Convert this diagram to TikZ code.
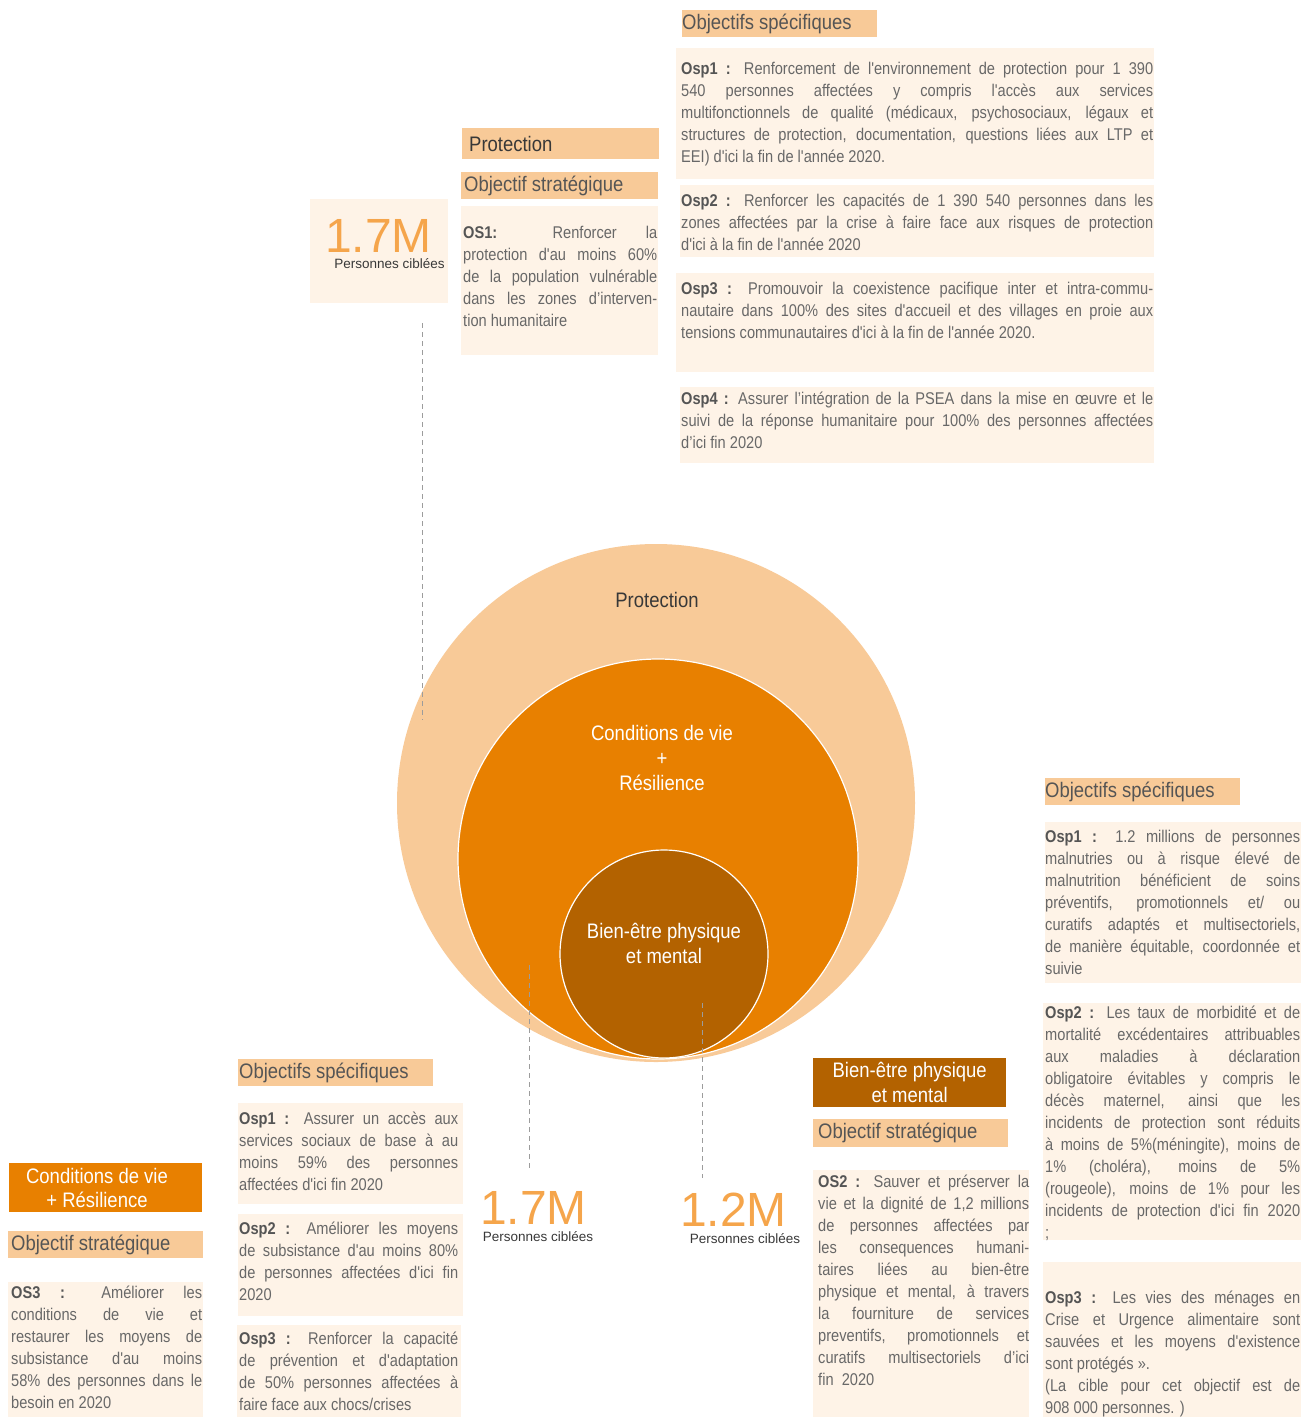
\documentclass[tikz,border=0pt]{standalone}
\usepackage{fontspec}
\setmainfont{Liberation Sans}
\newfontfamily\narrowfont{Liberation Sans}[FakeStretch=0.88]
\newfontfamily\bodyfont{Liberation Sans}[FakeStretch=0.86]

\definecolor{peach}{HTML}{F8CA98}
\definecolor{cream}{HTML}{FEF3E7}
\definecolor{amber}{HTML}{E88000}
\definecolor{rust}{HTML}{B36200}
\definecolor{tallyorange}{HTML}{F5A54B}
\definecolor{ink}{HTML}{686868}
\definecolor{labelink}{HTML}{555555}
\definecolor{darkink}{HTML}{383838}
\definecolor{guidegray}{HTML}{9C9C9C}

\newcommand{\lbl}[1]{\textcolor{labelink}{\textbf{#1}}}

\tolerance=10000
\hbadness=10000
\setlength{\parindent}{0pt}

\tikzset{
  band/.style 2 args={fill=peach, anchor=north west, inner sep=0pt, minimum width=#1, minimum height=#2},
  panel/.style 2 args={fill=cream, anchor=north west, inner sep=0pt, minimum width=#1, minimum height=#2},
  bandtext/.style={anchor=west, inner sep=0pt, text=labelink, font=\narrowfont\fontsize{21}{25}\selectfont},
  body/.style={anchor=north west, inner sep=0pt, text=ink, text width=#1, align=justify, font=\bodyfont\fontsize{17}{22}\selectfont},
  ring/.style={circle, inner sep=0pt, minimum size=#1},
  ringtext/.style={align=center, inner sep=0pt, font=\narrowfont\fontsize{21}{25}\selectfont},
  tally/.style={anchor=base, inner sep=0pt, text=tallyorange, font=\fontsize{48}{48}\selectfont},
  tallytext/.style={anchor=base, inner sep=0pt, text=darkink, font=\fontsize{13.5}{16}\selectfont},
  guide/.style={draw=guidegray, line width=1pt, dash pattern=on 5pt off 4pt},
}

\begin{document}
\begin{tikzpicture}[x=1pt,y=-1pt]
\useasboundingbox (0,0) rectangle (1301,1417);

% the three rings
\node[ring=518, fill=peach] (protRing) at (656,803) {};
\node[ring=400, fill=amber, draw=white, line width=1.2pt] (condRing) at (658,859) {};
\node[ring=208, fill=rust, draw=white, line width=1.2pt] (bienRing) at (664,954) {};
\node[ringtext, text=darkink] (protRingTxt) at (657,600) {Protection};
\node[ringtext, text=white] (condRingTxt) at (662,758) {Conditions de vie\\+\\Résilience};
\node[ringtext, text=white] (bienRingTxt) at (664,943) {Bien-être physique\\et mental};

% Protection: objectifs specifiques
\node[band={195}{27}] (specTop) at (682,10) {};
\node[bandtext] (specTopTxt) at (specTop.west) {Objectifs spécifiques};
\node[panel={478}{131}] (osp1TopBox) at (676,48) {};
\node[panel={474}{72}]  (osp2TopBox) at (680,185) {};
\node[panel={478}{99}]  (osp3TopBox) at (676,273) {};
\node[panel={474}{76}]  (osp4TopBox) at (680,387) {};
\node[body=472] (osp1Top) at (681,58.6) {\strut\lbl{Osp1 :} Renforcement de l'environnement de protection pour 1 390\linebreak
  540 personnes affectées y compris l'accès aux services\linebreak
  multifonctionnels de qualité (médicaux, psychosociaux, légaux et\linebreak
  structures de protection, documentation, questions liées aux LTP et\linebreak
  EEI) d'ici la fin de l'année 2020.};
\node[body=472] (osp2Top) at (681,190.6) {\strut\lbl{Osp2 :} Renforcer les capacités de 1 390 540 personnes dans les\linebreak
  zones affectées par la crise à faire face aux risques de protection\linebreak
  d'ici à la fin de l'année 2020};
\node[body=472] (osp3Top) at (681,278.6) {\strut\lbl{Osp3 :} Promouvoir la coexistence pacifique inter et intra-commu-\linebreak
  nautaire dans 100\% des sites d'accueil et des villages en proie aux\linebreak
  tensions communautaires d'ici à la fin de l'année 2020.};
\node[body=472] (osp4Top) at (681,388.6) {\strut\lbl{Osp4 :} Assurer l’intégration de la PSEA dans la mise en œuvre et le\linebreak
  suivi de la réponse humanitaire pour 100\% des personnes affectées\linebreak
  d’ici fin 2020};

% Protection: objectif strategique
\node[band={197}{31}] (protBand) at (462,128) {};
\node[bandtext, text=darkink, xshift=7pt] (protBandTxt) at (protBand.west) {Protection};
\node[band={197}{27}] (os1Band) at (461,172) {};
\node[bandtext, xshift=3pt] (os1BandTxt) at (os1Band.west) {Objectif stratégique};
\node[panel={197}{149}] (os1Box) at (461,206) {};
\node[body=194] (os1) at (463,222.6) {\strut\lbl{OS1:} Renforcer la\linebreak
  protection d'au moins 60\%\linebreak
  de la population vulnérable\linebreak
  dans les zones d’interven-\linebreak
  tion humanitaire};
\node[panel={138}{104}] (tallyProtBox) at (310,199) {};
\node[tally] (tallyProt) at (378.5,252) {1.7M};
\node[tallytext] (tallyProtTxt) at (389.5,268.5) {Personnes ciblées};

% Conditions de vie + Resilience
\node[band={193}{49}, fill=amber] (condBand) at (9,1163) {};
\node[ringtext, text=white, font=\narrowfont\fontsize{21}{24}\selectfont] (condBandTxt) at (97,1188) {Conditions de vie\\+ Résilience};
\node[band={195}{27}] (os3Band) at (8,1231) {};
\node[bandtext, xshift=3pt] (os3BandTxt) at (os3Band.west) {Objectif stratégique};
\node[panel={195}{135}] (os3Box) at (8,1282) {};
\node[body=191] (os3) at (11,1282.6) {\strut\lbl{OS3 :} Améliorer les\linebreak
  conditions de vie et\linebreak
  restaurer les moyens de\linebreak
  subsistance d'au moins\linebreak
  58\% des personnes dans le\linebreak
  besoin en 2020};

\node[band={195}{27}] (specMid) at (238,1059) {};
\node[bandtext, xshift=1pt] (specMidTxt) at (specMid.west) {Objectifs spécifiques};
\node[panel={225}{101}] (osp1MidBox) at (238,1103) {};
\node[panel={225}{102}] (osp2MidBox) at (238,1214) {};
\node[panel={224}{92}]  (osp3MidBox) at (237,1325) {};
\node[body=219] (osp1Mid) at (239,1108.6) {\strut\lbl{Osp1 :} Assurer un accès aux\linebreak
  services sociaux de base à au\linebreak
  moins 59\% des personnes\linebreak
  affectées d'ici fin 2020};
\node[body=219] (osp2Mid) at (239,1218.6) {\strut\lbl{Osp2 :} Améliorer les moyens\linebreak
  de subsistance d'au moins 80\%\linebreak
  de personnes affectées d'ici fin\linebreak
  2020};
\node[body=219] (osp3Mid) at (239,1328.6) {\strut\lbl{Osp3 :} Renforcer la capacité\linebreak
  de prévention et d'adaptation\linebreak
  de 50\% personnes affectées à\linebreak
  faire face aux chocs/crises};

\node[tally] (tallyCond) at (533.5,1224) {1.7M};
\node[tallytext] (tallyCondTxt) at (538,1241.5) {Personnes ciblées};
\node[tally] (tallyBien) at (733.5,1226) {1.2M};
\node[tallytext] (tallyBienTxt) at (745,1243.5) {Personnes ciblées};

% Bien-etre physique et mental
\node[band={193}{49}, fill=rust] (bienBand) at (813,1058) {};
\node[ringtext, text=white] (bienBandTxt) at (bienBand.center) {Bien-être physique\\et mental};
\node[band={195}{28}] (os2Band) at (813,1119) {};
\node[bandtext, xshift=5pt] (os2BandTxt) at (os2Band.west) {Objectif stratégique};
\node[panel={216}{247}] (os2Box) at (813,1170) {};
\node[body=211] (os2) at (818,1172.3) {\strut\lbl{OS2 :} Sauver et préserver la\linebreak
  vie et la dignité de 1,2 millions\linebreak
  de personnes affectées par\linebreak
  les consequences humani-\linebreak
  taires liées au bien-être\linebreak
  physique et mental, à travers\linebreak
  la fourniture de services\linebreak
  preventifs, promotionnels et\linebreak
  curatifs multisectoriels d’ici\linebreak
  fin~ 2020};

\node[band={195}{27}] (specRight) at (1045,778) {};
\node[bandtext] (specRightTxt) at (specRight.west) {Objectifs spécifiques};
\node[panel={256}{161}] (osp1RightBox) at (1045,822) {};
\node[panel={258}{237}] (osp2RightBox) at (1043,1003) {};
\node[panel={258}{155}] (osp3RightBox) at (1043,1262) {};
\node[body=255] (osp1Right) at (1045,826.6) {\strut\lbl{Osp1 :} 1.2 millions de personnes\linebreak
  malnutries ou à risque élevé de\linebreak
  malnutrition bénéficient de soins\linebreak
  préventifs, promotionnels et/ ou\linebreak
  curatifs adaptés et multisectoriels,\linebreak
  de manière équitable, coordonnée et\linebreak
  suivie};
\node[body=255] (osp2Right) at (1045,1002.6) {\strut\lbl{Osp2 :} Les taux de morbidité et de\linebreak
  mortalité excédentaires attribuables\linebreak
  aux maladies à déclaration\linebreak
  obligatoire évitables y compris le\linebreak
  décès maternel, ainsi que les\linebreak
  incidents de protection sont réduits\linebreak
  à moins de 5\%(méningite), moins de\linebreak
  1\% (choléra), moins de 5\%\linebreak
  (rougeole), moins de 1\% pour les\linebreak
  incidents de protection d'ici fin 2020\linebreak
  ;};
\node[body=255] (osp3Right) at (1045,1287.6) {\strut\lbl{Osp3 :} Les vies des ménages en\linebreak
  Crise et Urgence alimentaire sont\linebreak
  sauvées et les moyens d'existence\linebreak
  sont protégés ».\\
  (La cible pour cet objectif est de\linebreak
  908 000 personnes. )};

% dashed guides from the rings to the figures
\coordinate (guideProtA) at (422,323);
\coordinate (guideProtB) at (422,720);
\coordinate (guideCondA) at (529,965);
\coordinate (guideCondB) at (529,1170);
\coordinate (guideBienA) at (702,1003);
\coordinate (guideBienB) at (702,1178);
\draw[guide] (guideProtA) -- (guideProtB);
\draw[guide] (guideCondA) -- (guideCondB);
\draw[guide] (guideBienA) -- (guideBienB);
\end{tikzpicture}
\end{document}
